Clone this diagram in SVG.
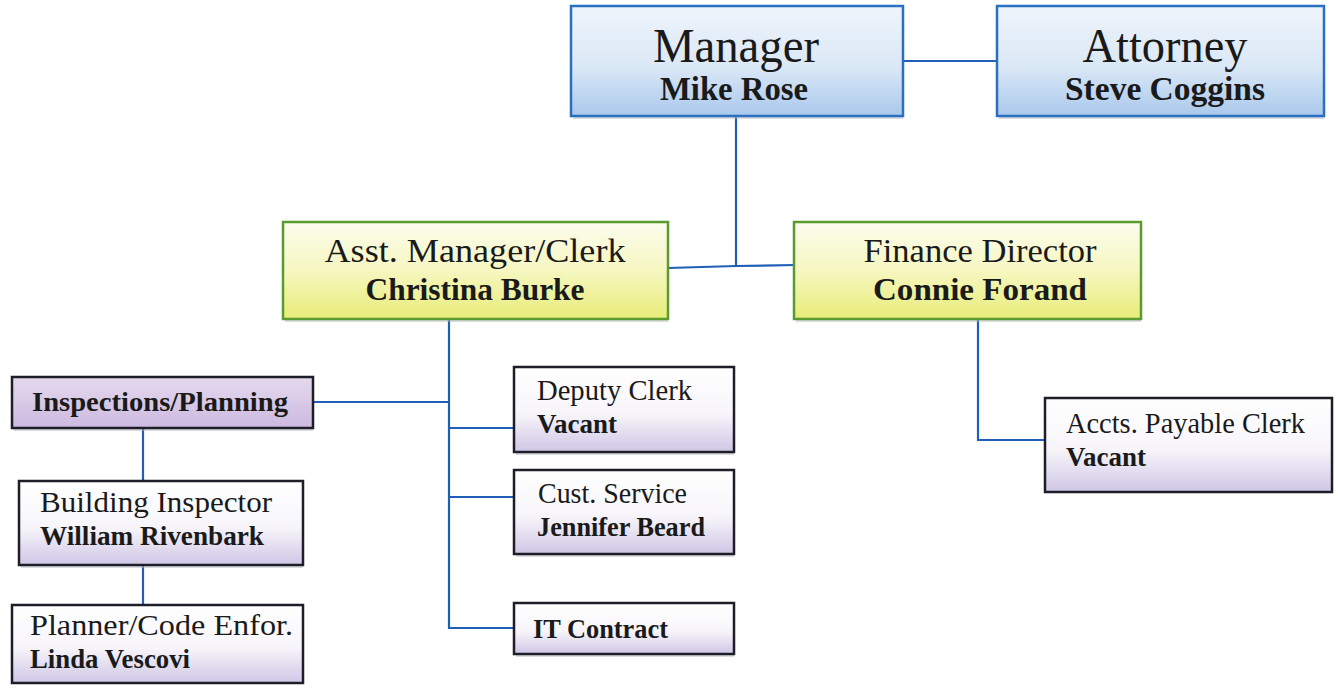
<svg xmlns="http://www.w3.org/2000/svg" width="1338" height="692" viewBox="0 0 1338 692">
<defs>
<linearGradient id="gBlue" x1="0" y1="0" x2="0" y2="1"><stop offset="0" stop-color="#eef4fb"/><stop offset="0.55" stop-color="#dbe8f6"/><stop offset="1" stop-color="#a9c8ec"/></linearGradient>
<linearGradient id="gYel" x1="0" y1="0" x2="0" y2="1"><stop offset="0" stop-color="#fbfcee"/><stop offset="0.5" stop-color="#f6f7c0"/><stop offset="1" stop-color="#e8ec78"/></linearGradient>
<linearGradient id="gLav" x1="0" y1="0" x2="0" y2="1"><stop offset="0" stop-color="#ffffff"/><stop offset="0.55" stop-color="#f7f5fa"/><stop offset="1" stop-color="#cfc6e6"/></linearGradient>
<linearGradient id="gPur" x1="0" y1="0" x2="0" y2="1"><stop offset="0" stop-color="#e4d9ee"/><stop offset="1" stop-color="#cdb9df"/></linearGradient>
</defs>
<style>
.blue{fill:url(#gBlue);stroke:#2a6fc0;stroke-width:2.5}
.yel{fill:url(#gYel);stroke:#5a9a2e;stroke-width:2.5}
.lav{fill:url(#gLav);stroke:#1e1e28;stroke-width:2.5}
.pur{fill:url(#gPur);stroke:#1e1e28;stroke-width:2.5}
.shadow{fill:#b8b8c4;opacity:0.5}
text{font-family:"Liberation Serif","Times New Roman",serif;fill:#1a1a1a}
.b{font-weight:bold}
.c{text-anchor:middle}
.conn{fill:none;stroke:#1f5fb8;stroke-width:2.2}
</style>
<rect width="1338" height="692" fill="#ffffff"/>
<g id="connectors">
<path class="conn" d="M903 61H997"/>
<path class="conn" d="M736 117V266"/>
<path class="conn" d="M668 268L736 266L795 265"/>
<path class="conn" d="M449 320V628H514"/>
<path class="conn" d="M313 402H449"/>
<path class="conn" d="M449 428H514"/>
<path class="conn" d="M449 497H514"/>
<path class="conn" d="M143 428V481"/>
<path class="conn" d="M143 565V605"/>
<path class="conn" d="M978 320V440H1045"/>
</g>
<g id="manager">
<rect class="shadow" x="573" y="116" width="330" height="3"/>
<rect class="blue" x="571" y="6" width="332" height="110"/>
<text class="c" x="736" y="62" font-size="48" textLength="166" lengthAdjust="spacingAndGlyphs">Manager</text>
<text class="c b" x="734" y="100" font-size="34" textLength="148" lengthAdjust="spacingAndGlyphs">Mike Rose</text>
</g>
<g id="attorney">
<rect class="shadow" x="999" y="116" width="325" height="3"/>
<rect class="blue" x="997" y="6" width="327" height="110"/>
<text class="c" x="1165" y="62" font-size="48" textLength="165" lengthAdjust="spacingAndGlyphs">Attorney</text>
<text class="c b" x="1165" y="100" font-size="34" textLength="200" lengthAdjust="spacingAndGlyphs">Steve Coggins</text>
</g>
<g id="asst-manager">
<rect class="shadow" x="285" y="319" width="383" height="3"/>
<rect class="yel" x="283" y="222" width="385" height="97"/>
<text class="c" x="475" y="262" font-size="34" textLength="301" lengthAdjust="spacingAndGlyphs">Asst. Manager/Clerk</text>
<text class="c b" x="475" y="300" font-size="32" textLength="219" lengthAdjust="spacingAndGlyphs">Christina Burke</text>
</g>
<g id="finance-director">
<rect class="shadow" x="796" y="319" width="345" height="3"/>
<rect class="yel" x="794" y="222" width="347" height="97"/>
<text class="c" x="980" y="262" font-size="34" textLength="233" lengthAdjust="spacingAndGlyphs">Finance Director</text>
<text class="c b" x="980" y="300" font-size="32" textLength="214" lengthAdjust="spacingAndGlyphs">Connie Forand</text>
</g>
<g id="inspections-planning">
<rect class="shadow" x="14" y="428" width="299" height="3"/>
<rect class="pur" x="12" y="377" width="301" height="51"/>
<text class="b" x="32" y="411" font-size="27" textLength="256" lengthAdjust="spacingAndGlyphs">Inspections/Planning</text>
</g>
<g id="building-inspector">
<rect class="shadow" x="21" y="565" width="282" height="3"/>
<rect class="lav" x="19" y="481" width="284" height="84"/>
<text x="40" y="512" font-size="29" textLength="232" lengthAdjust="spacingAndGlyphs">Building Inspector</text>
<text class="b" x="40" y="545" font-size="28" textLength="224" lengthAdjust="spacingAndGlyphs">William Rivenbark</text>
</g>
<g id="planner">
<rect class="lav" x="12" y="605" width="291" height="78"/>
<text x="30" y="635" font-size="29" textLength="263" lengthAdjust="spacingAndGlyphs">Planner/Code Enfor.</text>
<text class="b" x="30" y="668" font-size="28" textLength="160" lengthAdjust="spacingAndGlyphs">Linda Vescovi</text>
</g>
<g id="deputy-clerk">
<rect class="shadow" x="516" y="452" width="218" height="3"/>
<rect class="lav" x="514" y="367" width="220" height="85"/>
<text x="537" y="400" font-size="29" textLength="155" lengthAdjust="spacingAndGlyphs">Deputy Clerk</text>
<text class="b" x="537" y="433" font-size="28" textLength="80" lengthAdjust="spacingAndGlyphs">Vacant</text>
</g>
<g id="cust-service">
<rect class="shadow" x="516" y="554" width="218" height="3"/>
<rect class="lav" x="514" y="470" width="220" height="84"/>
<text x="538" y="503" font-size="29" textLength="149" lengthAdjust="spacingAndGlyphs">Cust. Service</text>
<text class="b" x="537" y="536" font-size="28" textLength="168" lengthAdjust="spacingAndGlyphs">Jennifer Beard</text>
</g>
<g id="it-contract">
<rect class="shadow" x="516" y="654" width="218" height="3"/>
<rect class="lav" x="514" y="603" width="220" height="51"/>
<text class="b" x="533" y="638" font-size="28" textLength="135" lengthAdjust="spacingAndGlyphs">IT Contract</text>
</g>
<g id="accts-payable">
<rect class="lav" x="1045" y="398" width="287" height="94"/>
<text x="1066" y="433" font-size="29" textLength="239" lengthAdjust="spacingAndGlyphs">Accts. Payable Clerk</text>
<text class="b" x="1066" y="466" font-size="28" textLength="80" lengthAdjust="spacingAndGlyphs">Vacant</text>
</g>
</svg>
